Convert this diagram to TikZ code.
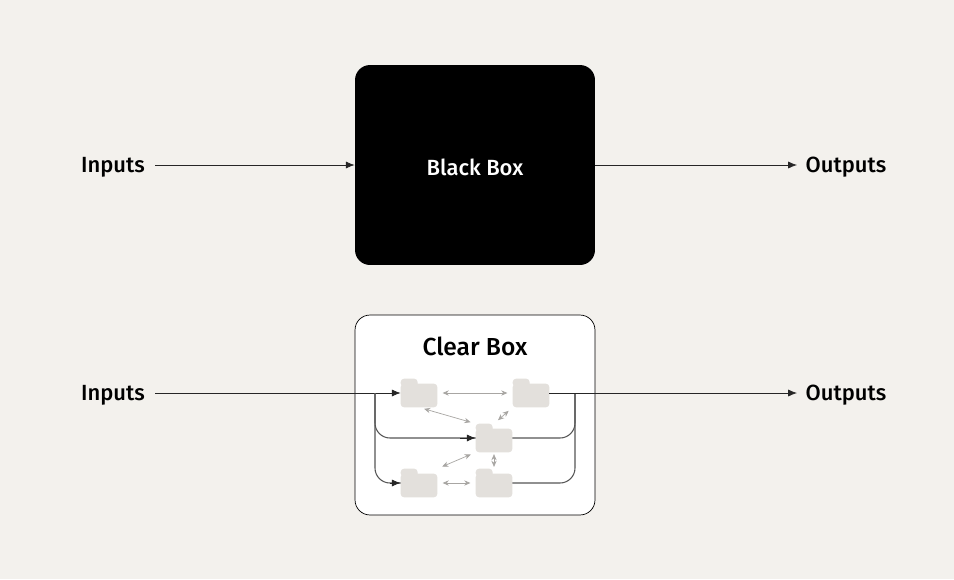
\documentclass[tikz,border=0pt]{standalone}
\usepackage{fontspec}
\setmainfont{Fira Sans}[UprightFont=* Medium]
\usetikzlibrary{arrows.meta,positioning}
\definecolor{bgcol}{HTML}{F3F1ED}
\definecolor{foldercol}{HTML}{E3E0DC}
\definecolor{linkcol}{HTML}{A8A6A3}
\definecolor{wirecol}{HTML}{555555}
\begin{document}
\begin{tikzpicture}[x=0.02cm,y=-0.02cm,
    label/.style={font={\fontsize{12.5}{13}\selectfont}},
    box/.style={minimum width=4.8cm,minimum height=4cm,rounded corners=0.3cm,inner sep=0},
    folder/.style={minimum width=0.72cm,minimum height=0.56cm,inner sep=0},
    flow/.style={draw=black!85,-{Latex[length=5pt,width=4pt]}},
    wire/.style={draw=wirecol,semithick,rounded corners=0.3cm},
    link/.style={draw=linkcol,{Stealth[length=3.5pt,width=3pt]}-{Stealth[length=3.5pt,width=3pt]},shorten <=3pt,shorten >=3pt}]
\fill[bgcol](0,0) rectangle (954,579);
\useasboundingbox (0,0) rectangle (954,579);

% black box
\node[box,fill=black] (black) at (475,165) {};
\node[label,text=white] (title1) at (475,167) {Black Box};
\node[label] (in1) at (113,167) {Inputs};
\node[label] (out1) at (846,167) {Outputs};
\draw[flow] (155,165) -- (black.west);
\draw[flow] (black.east) -- (797,165);

% clear box
\node[box,fill=white,draw=black] (clear) at (475,415) {};
\node[font={\fontsize{14}{15}\selectfont}] (title2) at (475,346) {Clear Box};
\node[label] (in2) at (113,395) {Inputs};
\node[label] (out2) at (846,395) {Outputs};

\node[folder] (fa) at (419,393) {};
\node[folder] (fb) at (531,393) {};
\node[folder] (fc) at (494,438) {};
\node[folder] (fd) at (419,483) {};
\node[folder] (fe) at (494,483) {};
\foreach \f in {fa,fb,fc,fd,fe}
  \fill[foldercol,rounded corners=2pt] ([yshift=-0.1cm]\f.north west) rectangle (\f.south east)
    (\f.north west) rectangle ++(17,8);

% wiring
\coordinate (split) at (375,393);
\coordinate (merge) at (575,393);
\draw[flow] (155,393) -- (fa.west);
\draw[wire] (split) |- (fc.west);
\draw[flow] (460,438) -- (fc.west);
\draw[wire] (split) |- (fd.west);
\draw[flow] (390,483) -- (fd.west);
\draw[wire] (fc.east) -| (merge);
\draw[wire] (fe.east) -| (merge);
\draw[flow] (fb.east) -- (797,393);

\draw[link] (fa.east) -- (fb.west);
\draw[link] (fa.south) -- (fc.north west);
\draw[link] (fb.south west) -- (fc.north);
\draw[link,shorten <=1pt,shorten >=1pt] (fc.south) -- (fe.north);
\draw[link] (fd.north east) -- (fc.south west);
\draw[link] (fd.east) -- (fe.west);
\end{tikzpicture}
\end{document}
